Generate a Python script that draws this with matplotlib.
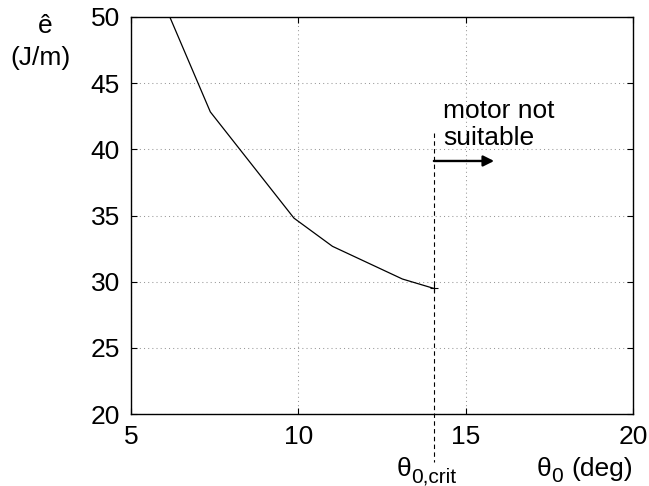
import matplotlib
matplotlib.use("Agg")
import matplotlib.pyplot as plt

plt.rcParams['font.family'] = ['Liberation Sans', 'DejaVu Sans']

# data
theta0 = [6.16, 7.37, 9.87, 11.02, 13.11, 14.05]
e_hat = [50.0, 42.83, 34.8, 32.67, 30.2, 29.49]
theta_crit = 14.05
xticks = [5, 10, 15, 20]
yticks = [20, 25, 30, 35, 40, 45, 50]

fig = plt.figure(figsize=(6.49, 4.86), dpi=100)
ax = fig.add_axes([131/649, 1-414/486, 502/649, 397/486])

ax.plot(theta0, e_hat, color='black', lw=0.9)
ax.plot([theta0[-1]], [e_hat[-1]], marker='+', color='black', ms=6, mew=0.8)

ax.set_xlim(5, 20)
ax.set_ylim(20, 50)
ax.set_xticks(xticks)
ax.set_yticks(yticks)
ax.tick_params(direction='in', length=4, width=0.8, top=True, right=True,
               labelsize=19, pad=8)
for s in ax.spines.values():
    s.set_linewidth(1.0)
ax.grid(True, color='#999999', linestyle=(0, (1, 3)), linewidth=0.75)

# critical angle dashed line
ax.plot([theta_crit, theta_crit], [0.708, -0.121], transform=ax.get_xaxis_transform(),
        color='black', lw=0.8, linestyle=(0, (4, 3)), clip_on=False)

# arrow
ax.annotate('', xy=(15.85, 39.12), xytext=(theta_crit, 39.12),
            arrowprops=dict(arrowstyle='-|>', color='black', lw=1.7,
                            mutation_scale=16, shrinkA=0, shrinkB=0))
ax.text(14.32, 42.37, 'motor not', fontsize=19, ha='left', va='baseline')
ax.text(14.32, 40.33, 'suitable', fontsize=19, ha='left', va='baseline')

# labels
fig.text(397/649, 1-476/486, 'θ', fontsize=19, ha='left', va='baseline')
fig.text(411/649, 1-482/486, '0,crit', fontsize=15, ha='left', va='baseline')
fig.text(537/649, 1-476/486, 'θ', fontsize=19, ha='left', va='baseline')
fig.text(551/649, 1-482/486, '0', fontsize=15, ha='left', va='baseline')
fig.text(633/649, 1-476/486, '(deg)', fontsize=19, ha='right', va='baseline')
fig.text(45/649, 1-33/486, 'ê', fontsize=19, ha='center', va='baseline')
fig.text(40/649, 1-65/486, '(J/m)', fontsize=19, ha='center', va='baseline')

fig.savefig('out.png', dpi=100)
